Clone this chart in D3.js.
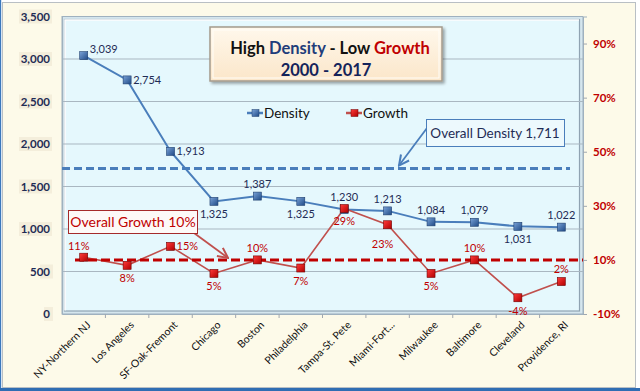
<!DOCTYPE html>
<html><head><meta charset="utf-8">
<script src="https://cdn.jsdelivr.net/npm/d3@7/dist/d3.min.js"></script>
<style>body{margin:0;background:#fff;}svg{display:block;font-family:Lato,"Open Sans",sans-serif;}</style>
</head><body>
<script>
const categories = ["NY-Northern NJ","Los Angeles","SF-Oak-Fremont","Chicago","Boston","Philadelphia","Tampa-St. Pete","Miami-Fort...","Milwaukee","Baltimore","Cleveland","Providence, RI"];
const density = [3039,2754,1913,1325,1387,1325,1230,1213,1084,1079,1031,1022];
const growth = [11,8,15,5,10,7,29,23,5,10,-4,2];
const overallDensity = 1711;
const overallGrowth = 10;
const leftTicks = [0,500,1000,1500,2000,2500,3000,3500];
const rightTicks = [-10,10,30,50,70,90];
const densityPlace = ["right","right","right","below","above","below","above","above","above","above","below","above"];
const growthPlace = ["aboveL","below","right","below","above","below","below","belowL","below","above","below","above"];

const W=640,H=391;
const svg=d3.select("body").append("svg").attr("width",W).attr("height",H);
const defs=svg.append("defs");
const g1=defs.append("linearGradient").attr("id","titleGrad").attr("x1",0).attr("y1",0).attr("x2",0).attr("y2",1);
g1.append("stop").attr("offset","0%").attr("stop-color","#fff8ec");
g1.append("stop").attr("offset","100%").attr("stop-color","#fbe6c9");
const gb=defs.append("linearGradient").attr("id","bMark").attr("x1",0).attr("y1",0).attr("x2",1).attr("y2",1);
gb.append("stop").attr("offset","0%").attr("stop-color","#7aa3d8");
gb.append("stop").attr("offset","100%").attr("stop-color","#1f4a86");
const gr=defs.append("linearGradient").attr("id","rMark").attr("x1",0).attr("y1",0).attr("x2",1).attr("y2",1);
gr.append("stop").attr("offset","0%").attr("stop-color","#ff3b3b");
gr.append("stop").attr("offset","100%").attr("stop-color","#b00000");
const sh=defs.append("filter").attr("id","shadow").attr("x","-10%").attr("y","-10%").attr("width","130%").attr("height","140%");
sh.append("feDropShadow").attr("dx",2).attr("dy",2).attr("stdDeviation",1.5).attr("flood-color","#000").attr("flood-opacity",0.35);
function mkArrow(id,color){
  defs.append("marker").attr("id",id).attr("viewBox","0 0 10 10").attr("refX",9).attr("refY",5)
   .attr("markerWidth",7).attr("markerHeight",7).attr("orient","auto-start-reverse")
   .append("path").attr("d","M1,1 L9,5 L1,9").attr("fill","none").attr("stroke",color).attr("stroke-width",1.6);
}
mkArrow("arrB","#4a7ebb");mkArrow("arrR","#c0504d");

// frame
svg.append("rect").attr("x",0).attr("y",0).attr("width",W).attr("height",H).attr("fill","#fff");
svg.append("rect").attr("x",2.5).attr("y",2.5).attr("width",633).attr("height",385).attr("fill","#fdfae9").attr("stroke","#b9bfc4");
svg.append("rect").attr("x",0).attr("y",0).attr("width",1.2).attr("height",H).attr("fill","#3b78bd");
svg.append("rect").attr("x",0).attr("y",388).attr("width",W).attr("height",3).attr("fill","#2f6db3");

const L=62,R=583,T=16.5,B=314;
const x=d3.scaleBand().domain(categories).range([L,R]);
const cx=d=>x(d)+x.bandwidth()/2;
const yL=d3.scaleLinear().domain([0,3500]).range([B,T]);
const yR=d3.scaleLinear().domain([-10,100]).range([B,T]);

// plot area 3D
svg.append("rect").attr("x",L).attr("y",T).attr("width",R-L).attr("height",B-T).attr("fill","#d5e6ee").attr("stroke","#9fb1bf");
svg.append("rect").attr("x",L+2.5).attr("y",T+3).attr("width",R-L-6).attr("height",B-T-6).attr("fill","#e5f8fd").attr("stroke","#8fa3b2").attr("stroke-width",1.2);
svg.append("path").attr("d",`M${L+3},${B-3.5} V${T+3.5} H${R-4}`).attr("fill","none").attr("stroke","#ffffff").attr("stroke-width",1.5);

// gridlines
svg.append("g").selectAll("line").data(leftTicks.filter(d=>d>0&&d<3500)).join("line")
 .attr("x1",L).attr("x2",R).attr("y1",d=>yL(d)).attr("y2",d=>yL(d)).attr("stroke","#a9b7c1").attr("stroke-width",1);

// left axis label backgrounds
svg.append("g").selectAll("rect").data(leftTicks).join("rect")
 .attr("x",d=>d===0?44:d<1000?40:19).attr("y",d=>yL(d)-7).attr("width",d=>d===0?9:d<1000?13:33).attr("height",14).attr("fill","#f4eedb");

const axL=svg.append("g").attr("transform",`translate(${L},0)`).call(d3.axisLeft(yL).tickValues(leftTicks).tickFormat(d3.format(",")).tickSize(0).tickPadding(12));
axL.select(".domain").attr("stroke","#9fb1bf");
axL.selectAll("text").attr("font-size",11.5).attr("font-weight","bold").attr("fill","#1f2c55").attr("font-family","Lato");

const axR=svg.append("g").attr("transform",`translate(${R},0)`).call(d3.axisRight(yR).tickValues(rightTicks).tickFormat(d=>d+"%").tickSize(4).tickPadding(6));
axR.select(".domain").attr("stroke","#9fb1bf");
axR.selectAll(".tick line").attr("stroke","#a0a8b0");
axR.selectAll("text").attr("font-size",11.5).attr("font-weight","bold").attr("fill","#c00000").attr("font-family","Lato");

const axB=svg.append("g").attr("transform",`translate(0,${B})`).call(d3.axisBottom(x).tickSize(0).tickPadding(0));
axB.select(".domain").attr("stroke","#9fb1bf");
axB.selectAll(".tick text").attr("text-anchor","end").attr("font-size",10.5).attr("fill","#111").attr("font-family","Lato")
 .attr("transform","translate(5,9) rotate(-45)").attr("dy","0.35em");
svg.append("g").selectAll("line").data(categories.slice(1)).join("line")
 .attr("x1",d=>x(d)).attr("x2",d=>x(d)).attr("y1",B).attr("y2",B+4).attr("stroke","#a0a8b0");

// overall lines
svg.append("line").attr("x1",L).attr("x2",570).attr("y1",yL(overallDensity)).attr("y2",yL(overallDensity))
 .attr("stroke","#4a7ebb").attr("stroke-width",3).attr("stroke-dasharray","8,4");

// density line
svg.append("path").datum(density).attr("fill","none").attr("stroke","#4a7ebb").attr("stroke-width",2)
 .attr("d",d3.line().x((d,i)=>cx(categories[i])).y(d=>yL(d)));
// growth line
svg.append("path").datum(growth).attr("fill","none").attr("stroke","#c0504d").attr("stroke-width",1.6)
 .attr("d",d3.line().x((d,i)=>cx(categories[i])).y(d=>yR(d)));

svg.append("line").attr("x1",75).attr("x2",R).attr("y1",yR(overallGrowth)).attr("y2",yR(overallGrowth))
 .attr("stroke","#c00000").attr("stroke-width",3).attr("stroke-dasharray","9,4");

// markers
svg.append("g").selectAll("rect").data(density).join("rect")
 .attr("x",(d,i)=>cx(categories[i])-4).attr("y",d=>yL(d)-4).attr("width",8).attr("height",8)
 .attr("fill","url(#bMark)").attr("stroke","#1f3f6e").attr("stroke-width",0.6);
svg.append("g").selectAll("rect").data(growth).join("rect")
 .attr("x",(d,i)=>cx(categories[i])-4).attr("y",d=>yR(d)-4).attr("width",8).attr("height",8)
 .attr("fill","url(#rMark)").attr("stroke","#700000").attr("stroke-width",0.6);

// data labels
const fmt=d3.format(",");
function place(p,px,py){
  switch(p){
    case "right": return [px+6,py,"start"];
    case "above": return [px,py-12,"middle"];
    case "aboveL": return [px-5,py-11,"middle"];
    case "below": return [px,py+13,"middle"];
    case "belowL": return [px-5,py+19,"middle"];
  }
}
svg.append("g").selectAll("text").data(density).join("text")
 .each(function(d,i){
   const px=cx(categories[i]),py=yL(d);
   let [tx,ty,a]=place(densityPlace[i],px,py);
   if(i===0) ty-=7;
   d3.select(this).attr("x",tx).attr("y",ty).attr("text-anchor",a);
 })
 .attr("dy","0.35em").attr("font-size",11).attr("fill","#1f2c55").text(d=>fmt(d));
svg.append("g").selectAll("text").data(growth).join("text")
 .each(function(d,i){
   const px=cx(categories[i]),py=yR(d);
   let [tx,ty,a]=place(growthPlace[i],px,py);
   d3.select(this).attr("x",tx).attr("y",ty).attr("text-anchor",a);
 })
 .attr("dy","0.35em").attr("font-size",11).attr("fill","#c00000").text(d=>d+"%");

// title box
svg.append("rect").attr("x",210).attr("y",27).attr("width",232).attr("height",54).attr("fill","url(#titleGrad)")
 .attr("stroke","#a49a8c").attr("stroke-width",1.5).attr("filter","url(#shadow)");
svg.append("rect").attr("x",213).attr("y",30).attr("width",226).attr("height",48).attr("fill","none").attr("stroke","#fffdf8").attr("stroke-width",1);
const t1=svg.append("text").attr("x",330).attr("y",48).attr("text-anchor","middle").attr("font-size",16.5).attr("font-weight","bold").attr("dy","0.35em");
t1.append("tspan").attr("fill","#111").text("High ");
t1.append("tspan").attr("fill","#1f3d7a").text("Density");
t1.append("tspan").attr("fill","#111").text(" - Low ");
t1.append("tspan").attr("fill","#c00000").text("Growth");
svg.append("text").attr("x",326).attr("y",70).attr("text-anchor","middle").attr("font-size",16.5).attr("font-weight","bold").attr("fill","#14235a").attr("dy","0.35em").text("2000 - 2017");

// legend
const legend=[{name:"Density",c:"#4a7ebb",m:"url(#bMark)",s:"#1f3f6e",x:247},{name:"Growth",c:"#c0504d",m:"url(#rMark)",s:"#700000",x:346}];
const lg=svg.append("g").selectAll("g").data(legend).join("g").attr("transform",d=>`translate(${d.x},113)`);
lg.append("line").attr("x1",0).attr("x2",16).attr("stroke",d=>d.c).attr("stroke-width",2.5);
lg.append("rect").attr("x",5).attr("y",-3.5).attr("width",7).attr("height",7).attr("fill",d=>d.m).attr("stroke",d=>d.s).attr("stroke-width",0.5);
lg.append("text").attr("x",17).attr("dy","0.35em").attr("font-size",13.5).attr("fill","#111").text(d=>d.name);

// callouts
svg.append("line").attr("x1",427).attr("y1",128).attr("x2",399).attr("y2",yL(overallDensity)-3)
 .attr("stroke","#4a7ebb").attr("stroke-width",1.8).attr("marker-end","url(#arrB)");
svg.append("rect").attr("x",426.5).attr("y",119.5).attr("width",138).attr("height",27).attr("fill","#edf9fd").attr("stroke","#4a7ebb");
svg.append("text").attr("x",495).attr("y",133).attr("text-anchor","middle").attr("dy","0.35em").attr("font-size",13.5).attr("fill","#1f2c55").text("Overall Density "+fmt(overallDensity));

svg.append("line").attr("x1",194).attr("y1",233).attr("x2",228).attr("y2",yR(overallGrowth)-2)
 .attr("stroke","#c0504d").attr("stroke-width",1.8).attr("marker-end","url(#arrR)");
svg.append("rect").attr("x",68.5).attr("y",210.5).attr("width",129).attr("height",23).attr("fill","#fdf9f7").attr("stroke","#a52a2a");
svg.append("text").attr("x",133).attr("y",222).attr("text-anchor","middle").attr("dy","0.35em").attr("font-size",14).attr("fill","#c00000").text("Overall Growth "+overallGrowth+"%");
</script>
</body></html>
